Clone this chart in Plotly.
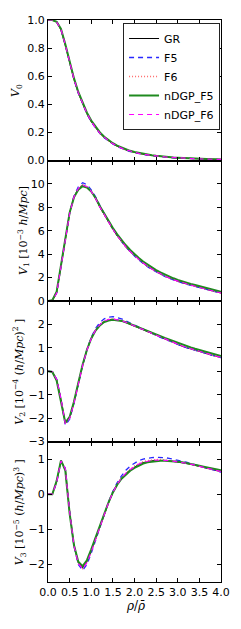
import plotly.graph_objects as go
from plotly.subplots import make_subplots

RHO = [0.0, 0.1, 0.2, 0.3, 0.4, 0.5, 0.6, 0.7, 0.8, 0.9, 1.0, 1.1, 1.2, 1.3, 1.4,
       1.5, 1.6, 1.7, 1.8, 1.9, 2.0, 2.1, 2.2, 2.3, 2.4, 2.5, 2.6, 2.7, 2.8, 2.9,
       3.0, 3.1, 3.2, 3.3, 3.4, 3.5, 3.6, 3.7, 3.8, 3.9, 4.0]

MODELS = ["GR", "F5", "F6", "nDGP_F5", "nDGP_F6"]

# ---- V0 ----
V0_GR = [1.000,1.000,0.985,0.930,0.820,0.700,0.578,0.480,0.400,0.332,0.276,0.230,0.193,0.163,0.138,0.118,0.101,0.087,0.075,0.065,0.057,0.050,0.044,0.039,0.035,0.031,0.028,0.025,0.0225,0.020,0.018,0.0163,0.0148,0.0134,0.0122,0.0111,0.0101,0.0092,0.0084,0.0077,0.0071]
V0_F5 = [1.000,1.000,0.986,0.932,0.822,0.701,0.578,0.479,0.399,0.331,0.275,0.229,0.192,0.162,0.137,0.117,0.100,0.086,0.074,0.064,0.056,0.049,0.043,0.038,0.034,0.030,0.027,0.024,0.0218,0.0195,0.0176,0.0160,0.0145,0.0131,0.0119,0.0108,0.0098,0.0089,0.0081,0.0074,0.0068]
V0_F6 = [1.000,1.000,0.985,0.931,0.821,0.700,0.578,0.480,0.400,0.332,0.276,0.230,0.193,0.163,0.138,0.118,0.101,0.087,0.075,0.065,0.057,0.050,0.044,0.039,0.035,0.031,0.028,0.025,0.0224,0.020,0.018,0.0162,0.0147,0.0133,0.0121,0.0110,0.0100,0.0091,0.0083,0.0076,0.0070]
V0_NF5 = [1.000,1.000,0.987,0.936,0.828,0.708,0.586,0.488,0.408,0.340,0.284,0.238,0.200,0.169,0.144,0.123,0.106,0.092,0.080,0.069,0.061,0.054,0.048,0.042,0.038,0.034,0.030,0.027,0.0245,0.022,0.020,0.018,0.0164,0.0149,0.0136,0.0124,0.0113,0.0103,0.0094,0.0086,0.0079]
V0_NF6 = [1.000,1.000,0.986,0.933,0.824,0.703,0.581,0.483,0.403,0.335,0.279,0.232,0.195,0.165,0.140,0.120,0.103,0.088,0.076,0.066,0.058,0.051,0.045,0.040,0.036,0.032,0.029,0.026,0.0231,0.0206,0.0185,0.0167,0.0152,0.0138,0.0125,0.0114,0.0104,0.0095,0.0087,0.0079,0.0073]

# ---- V1 [1e-3 h/Mpc] ----
V1_GR = [0.00,0.05,0.70,3.00,5.50,7.50,8.90,9.60,9.90,9.75,9.35,8.75,8.00,7.35,6.70,6.10,5.55,5.05,4.60,4.20,3.85,3.52,3.22,2.95,2.71,2.50,2.30,2.12,1.96,1.81,1.68,1.56,1.45,1.35,1.25,1.16,1.06,0.96,0.86,0.77,0.68]
V1_F5 = [0.00,0.05,0.68,2.95,5.45,7.50,8.95,9.75,10.10,9.95,9.50,8.90,8.15,7.45,6.80,6.20,5.60,5.10,4.62,4.20,3.84,3.50,3.20,2.93,2.69,2.48,2.28,2.10,1.94,1.79,1.66,1.54,1.43,1.33,1.23,1.14,1.04,0.94,0.85,0.76,0.67]
V1_F6 = [0.00,0.05,0.70,2.98,5.48,7.50,8.90,9.62,9.92,9.78,9.37,8.76,8.01,7.36,6.71,6.11,5.56,5.05,4.60,4.20,3.85,3.52,3.22,2.95,2.71,2.50,2.30,2.12,1.96,1.81,1.68,1.56,1.45,1.35,1.25,1.16,1.06,0.96,0.86,0.77,0.68]
V1_NF5 = [0.00,0.06,0.80,3.15,5.60,7.55,8.85,9.50,9.80,9.70,9.35,8.80,8.10,7.45,6.82,6.23,5.70,5.20,4.76,4.36,4.00,3.67,3.37,3.10,2.86,2.64,2.44,2.26,2.09,1.94,1.80,1.67,1.56,1.46,1.36,1.27,1.17,1.07,0.97,0.88,0.79]
V1_NF6 = [0.00,0.05,0.66,2.90,5.40,7.45,8.88,9.60,9.90,9.76,9.36,8.76,8.02,7.37,6.73,6.13,5.58,5.08,4.63,4.23,3.87,3.54,3.24,2.97,2.73,2.52,2.32,2.14,1.97,1.82,1.69,1.57,1.46,1.36,1.26,1.17,1.07,0.97,0.87,0.78,0.69]

# ---- V2 [1e-4 (h/Mpc)^2] ----
V2_GR = [0.00,-0.02,-0.35,-1.20,-2.22,-2.00,-1.35,-0.55,0.25,0.90,1.40,1.75,1.98,2.13,2.20,2.22,2.20,2.15,2.08,2.00,1.92,1.84,1.76,1.68,1.61,1.53,1.45,1.37,1.29,1.21,1.14,1.07,1.01,0.95,0.89,0.84,0.78,0.73,0.68,0.63,0.58]
V2_F5 = [0.00,-0.02,-0.33,-1.18,-2.30,-2.05,-1.38,-0.56,0.25,0.92,1.45,1.83,2.08,2.24,2.31,2.33,2.30,2.24,2.15,2.06,1.96,1.87,1.78,1.70,1.62,1.54,1.45,1.37,1.29,1.21,1.14,1.07,1.01,0.95,0.89,0.84,0.78,0.73,0.68,0.63,0.58]
V2_F6 = [0.00,-0.02,-0.35,-1.20,-2.24,-2.01,-1.36,-0.55,0.25,0.91,1.41,1.77,2.00,2.15,2.22,2.24,2.21,2.16,2.09,2.01,1.93,1.84,1.76,1.68,1.61,1.53,1.45,1.37,1.29,1.21,1.14,1.07,1.01,0.95,0.89,0.84,0.78,0.73,0.68,0.63,0.58]
V2_NF5 = [0.00,-0.03,-0.40,-1.28,-2.20,-1.95,-1.30,-0.50,0.28,0.92,1.40,1.74,1.96,2.10,2.17,2.20,2.19,2.15,2.09,2.02,1.95,1.87,1.80,1.72,1.65,1.58,1.50,1.42,1.35,1.27,1.20,1.14,1.08,1.02,0.96,0.91,0.85,0.80,0.75,0.70,0.65]
V2_NF6 = [0.00,-0.02,-0.34,-1.18,-2.24,-2.02,-1.37,-0.56,0.24,0.90,1.40,1.76,1.99,2.14,2.21,2.23,2.21,2.16,2.09,2.01,1.93,1.85,1.77,1.69,1.62,1.54,1.46,1.38,1.30,1.22,1.15,1.08,1.02,0.96,0.90,0.85,0.79,0.74,0.69,0.64,0.59]

# ---- V3 [1e-5 (h/Mpc)^3] ----
V3_GR = [0.00,0.00,0.35,0.95,0.72,-0.50,-1.45,-1.95,-2.10,-1.93,-1.62,-1.27,-0.93,-0.58,-0.25,0.04,0.27,0.45,0.59,0.69,0.78,0.85,0.90,0.93,0.95,0.96,0.965,0.96,0.95,0.935,0.92,0.90,0.875,0.85,0.82,0.79,0.76,0.73,0.70,0.67,0.64]
V3_F5 = [0.00,0.00,0.33,0.94,0.74,-0.48,-1.47,-2.00,-2.17,-2.00,-1.68,-1.30,-0.94,-0.57,-0.22,0.08,0.33,0.52,0.68,0.80,0.89,0.96,1.00,1.03,1.04,1.05,1.05,1.04,1.02,1.00,0.97,0.94,0.91,0.87,0.84,0.80,0.77,0.73,0.70,0.66,0.63]
V3_F6 = [0.00,0.00,0.35,0.95,0.72,-0.50,-1.46,-1.97,-2.12,-1.95,-1.63,-1.27,-0.92,-0.57,-0.24,0.05,0.29,0.47,0.61,0.72,0.81,0.88,0.93,0.96,0.98,0.99,0.99,0.98,0.97,0.95,0.93,0.91,0.88,0.85,0.82,0.79,0.76,0.73,0.70,0.67,0.64]
V3_NF5 = [0.00,0.00,0.38,0.96,0.68,-0.55,-1.45,-1.92,-2.05,-1.88,-1.57,-1.22,-0.89,-0.55,-0.23,0.05,0.27,0.44,0.57,0.67,0.75,0.82,0.87,0.91,0.93,0.95,0.955,0.955,0.95,0.94,0.925,0.91,0.89,0.865,0.84,0.81,0.785,0.76,0.73,0.70,0.68]
V3_NF6 = [0.00,0.00,0.34,0.95,0.73,-0.49,-1.46,-1.97,-2.12,-1.95,-1.64,-1.28,-0.93,-0.58,-0.24,0.05,0.28,0.46,0.60,0.70,0.79,0.86,0.91,0.94,0.96,0.97,0.97,0.965,0.955,0.94,0.925,0.905,0.88,0.855,0.825,0.795,0.765,0.735,0.705,0.675,0.645]

PANELS = [
    [V0_GR, V0_F5, V0_F6, V0_NF5, V0_NF6],
    [V1_GR, V1_F5, V1_F6, V1_NF5, V1_NF6],
    [V2_GR, V2_F5, V2_F6, V2_NF5, V2_NF6],
    [V3_GR, V3_F5, V3_F6, V3_NF5, V3_NF6],
]

YLABELS = [
    "<i>V</i><sub>0</sub>",
    "<i>V</i><sub>1</sub> [10<sup>\u22123</sup> <i>h</i>/<i>Mpc</i>]",
    "<i>V</i><sub>2</sub> [10<sup>\u22124</sup> (<i>h</i>/<i>Mpc</i>)<sup>2</sup> ]",
    "<i>V</i><sub>3</sub> [10<sup>\u22125</sup> (<i>h</i>/<i>Mpc</i>)<sup>3</sup> ]",
]
YRANGES = [[0, 1.0], [0, 12], [-3, 3], [-2.5, 1.5]]
YTICKS = [[0, 0.2, 0.4, 0.6, 0.8, 1.0], [0, 2, 4, 6, 8, 10],
          [-3, -2, -1, 0, 1, 2], [-2, -1, 0, 1]]
YTICKFMT = [".1f", "d", "d", "d"]
XTICKS = [0.0, 0.5, 1.0, 1.5, 2.0, 2.5, 3.0, 3.5, 4.0]

STYLES = [
    dict(color="black", width=1.0, dash="solid"),
    dict(color="rgb(40,40,255)", width=1.3, dash="5px,4px"),
    dict(color="rgb(255,110,110)", width=1.3, dash="1px,2px"),
    dict(color="#1f8a1f", width=2.0, dash="solid"),
    dict(color="#ff00ff", width=1.2, dash="5px,4px"),
]

fig = make_subplots(rows=4, cols=1, shared_xaxes=True, vertical_spacing=0)

for r, series in enumerate(PANELS, start=1):
    for name, vals, st in zip(MODELS, series, STYLES):
        fig.add_trace(go.Scatter(x=RHO, y=vals, mode="lines", name=name,
                                 line=st, showlegend=(r == 1)), row=r, col=1)

axis_common = dict(showline=True, linecolor="black", linewidth=1, mirror="allticks",
                   ticks="inside", ticklen=4, tickwidth=1, tickcolor="black",
                   showgrid=False, zeroline=False,
                   tickfont=dict(family="DejaVu Sans", size=11, color="black"))

for r in range(1, 5):
    fig.update_xaxes(range=[0, 4], tickvals=XTICKS, tickformat=".1f",
                     showticklabels=(r == 4), row=r, col=1, **axis_common)
    fig.update_yaxes(range=YRANGES[r - 1], tickvals=YTICKS[r - 1],
                     tickformat=YTICKFMT[r - 1], row=r, col=1, **axis_common)

W, H = 241, 629
ML, MR, MT, MB = 48, 11, 20, 47
PW = W - ML - MR
PH = H - MT - MB

label_x = [15, 22, 18, 18]
annots = []
for i, (txt, lx) in enumerate(zip(YLABELS, label_x)):
    yref = "y domain" if i == 0 else f"y{i + 1} domain"
    annots.append(dict(text=txt, xref="paper", yref=yref, x=(lx - ML) / PW, y=0.5,
                       xanchor="center", yanchor="middle", textangle=-90, showarrow=False,
                       font=dict(family="DejaVu Serif", size=11, color="black")))
annots.append(dict(text="<i>\u03c1</i>/<i>\u03c1\u0304</i>", xref="paper", yref="paper",
                   x=(140 - ML) / PW, y=-24 / PH, xanchor="center",
                   yanchor="middle", showarrow=False,
                   font=dict(family="DejaVu Serif", size=12, color="black")))

fig.update_layout(
    width=W, height=H,
    margin=dict(l=ML, r=MR, t=MT, b=MB, pad=0),
    paper_bgcolor="white", plot_bgcolor="white",
    annotations=annots,
    legend=dict(x=(229 - ML) / PW, y=(H - MB - 23) / PH, xanchor="right", yanchor="top",
                bgcolor="white", bordercolor="#222222", borderwidth=1,
                font=dict(family="DejaVu Sans", size=11, color="black"),
                itemwidth=30, tracegroupgap=0),
)

fig.write_html("out.html", config={"displayModeBar": False},
               post_script="document.body.style.margin='0';document.body.style.overflow='hidden';")
